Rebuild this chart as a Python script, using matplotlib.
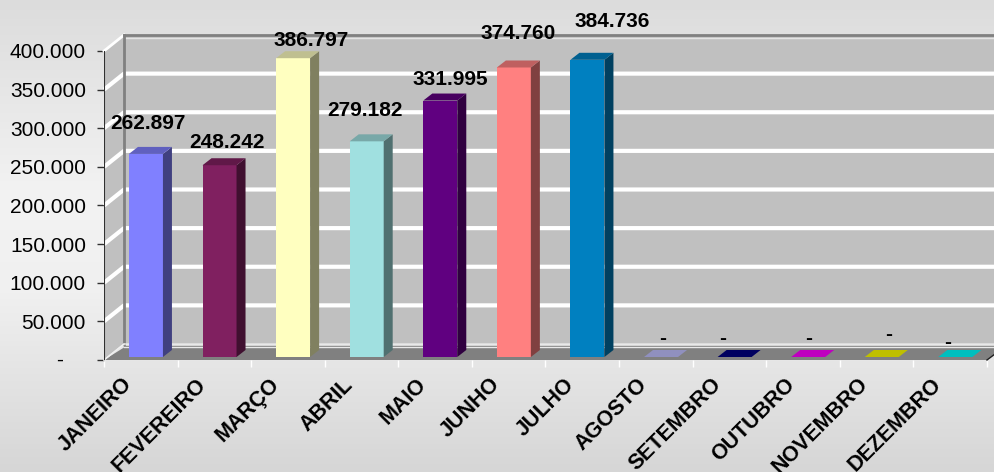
import numpy as np
import matplotlib
matplotlib.use('Agg')
import matplotlib.pyplot as plt
from matplotlib.colors import LinearSegmentedColormap, to_rgb
from matplotlib.patches import Polygon

meses = ['JANEIRO', 'FEVEREIRO', 'MARÇO', 'ABRIL', 'MAIO', 'JUNHO', 'JULHO',
         'AGOSTO', 'SETEMBRO', 'OUTUBRO', 'NOVEMBRO', 'DEZEMBRO']
valores = [262897, 248242, 386797, 279182, 331995, 374760, 384736, 0, 0, 0, 0, 0]
cores = ['#8080FF', '#802060', '#FFFFC0', '#A0E0E0', '#600080', '#FF8080', '#0080C0',
         '#C0C0FF', '#000080', '#FF00FF', '#FFFF00', '#00FFFF']
ticks_y = [50000, 100000, 150000, 200000, 250000, 300000, 350000, 400000]
ticks_y_txt = ['50.000', '100.000', '150.000', '200.000', '250.000', '300.000', '350.000', '400.000']

# deslocamento dos rotulos em pixels, em relacao ao topo de cada barra
desloc_rotulos = [(2, 30), (7, 23), (18, 18), (-2, 31), (10, 21), (4, 34), (25, 38),
                  (2, 19), (-12, 19), (0, 19), (7, 22), (-8, 14)]

plt.rcParams['font.family'] = ['Liberation Sans', 'DejaVu Sans']

fig = plt.figure(figsize=(9.95, 4.72), dpi=100)

# fundo em degrade
fundo = fig.add_axes([0, 0, 1, 1], zorder=0)
cmap = LinearSegmentedColormap.from_list('fundo', [(0, '#dcdcdc'), (0.42, '#f3f3f3'), (0.62, '#f0f0f0'), (1, '#d6d6d6')])
fundo.imshow(np.linspace(0, 1, 472).reshape(-1, 1), aspect='auto', cmap=cmap)
fundo.axis('off')

ax = fig.add_axes([104 / 995, 112 / 472, 883 / 995, 309 / 472], zorder=1)
ax.patch.set_visible(False)
ax.set_xlim(0, 12)
ax.set_ylim(0, 400000)
for s in ax.spines.values():
    s.set_visible(False)

px_x = 12 / 883
px_y = 400000 / 309
prof_x = 20 * px_x
prof_y = 16 * px_y
xmax = 891 * px_x

# paredes e chao do efeito 3D
ax.add_patch(Polygon([(prof_x, prof_y), (xmax, prof_y), (xmax, 400000 + prof_y), (prof_x, 400000 + prof_y)],
                     fc='#c0c0c0', ec='none', clip_on=False, zorder=1))
ax.add_patch(Polygon([(0, 0), (prof_x, prof_y), (prof_x, 400000 + prof_y), (0, 400000)],
                     fc='#c0c0c0', ec='none', clip_on=False, zorder=1))
for t in ticks_y[:-1]:
    ax.plot([0, prof_x, xmax], [t, t + prof_y, t + prof_y], color='white', lw=3, clip_on=False,
            solid_capstyle='butt', zorder=2)
ax.plot([0, prof_x], [400000, 400000 + prof_y], color='white', lw=2, clip_on=False, zorder=2)
ax.plot([prof_x, xmax], [400000 + prof_y, 400000 + prof_y], color='#808080', lw=2, clip_on=False, zorder=3)
ax.plot([prof_x, xmax], [400000 + prof_y - 3 * px_y] * 2, color='#e4e4e4', lw=1, clip_on=False, zorder=2)
ax.plot([prof_x, prof_x], [prof_y, 400000 + prof_y], color='#808080', lw=2, clip_on=False, zorder=3)

ax.add_patch(Polygon([(0, 0), (12, 0), (xmax, 6 * px_y), (xmax, 12.5 * px_y), (prof_x, 12.5 * px_y)],
                     fc='#808080', ec='none', clip_on=False, zorder=2))
ax.plot([0, prof_x, xmax], [0, prof_y, prof_y], color='#e8e8e8', lw=1, clip_on=False, zorder=3)
ax.plot([prof_x, xmax], [prof_y - 1.7 * px_y] * 2, color='#808080', lw=1, clip_on=False, zorder=3)
ax.plot([prof_x, xmax], [prof_y - 3.4 * px_y] * 2, color='#e8e8e8', lw=1, clip_on=False, zorder=3)
ax.plot([12, xmax], [0, 6 * px_y], color='#202020', lw=1, clip_on=False, zorder=3)
ax.plot([0, 0], [0, 400000], color='#303030', lw=1.5, zorder=4)
ax.plot([0, prof_x], [0, prof_y], color='#f0f0f0', lw=1, clip_on=False, zorder=3)

# barras
largura = 34 * px_x
dx = 9 * px_x
dy = 7 * px_y
base = 3 * px_y
x = np.arange(12) + 0.57
ax.bar(x, valores, width=largura, bottom=base, color=cores, linewidth=0, zorder=5)
for xi, v, c in zip(x, valores, cores):
    rgb = np.array(to_rgb(c))
    d = xi + largura / 2
    e = xi - largura / 2
    ax.add_patch(Polygon([(d, base), (d + dx, base + dy), (d + dx, base + v + dy), (d, base + v)],
                         fc=rgb * 0.5, ec='none', zorder=5, clip_on=False))
    ax.add_patch(Polygon([(e, base + v), (d, base + v), (d + dx, base + v + dy), (e + dx, base + v + dy)],
                         fc=rgb * 0.75, ec='none', zorder=5, clip_on=False))

# rotulos de dados
for xi, v, (ox, oy) in zip(x, valores, desloc_rotulos):
    txt = f'{v:,}'.replace(',', '.') if v else '-'
    ax.annotate(txt, (xi, v + base), xytext=(ox, oy), textcoords='offset pixels', ha='center', va='center',
                fontsize=15, fontweight='bold', color='black', zorder=6, annotation_clip=False)

ax.set_yticks(ticks_y + [0])
ax.set_yticklabels(ticks_y_txt + [''], fontsize=15)
ax.tick_params(axis='y', length=5, width=1, color='#303030', pad=8)
ax.annotate('-', (0, 0), xytext=(-44, 0), textcoords='offset pixels', ha='center', va='center',
            fontsize=15, annotation_clip=False)

ax.set_xticks(np.arange(13))
ax.set_xticklabels([''] * 13)
ax.tick_params(axis='x', length=5, width=1, color='white')
for i, m in enumerate(meses):
    ax.annotate(m, (i + 0.5, 0), xytext=(-19, -14), textcoords='offset pixels', rotation=45, ha='right', va='top',
                rotation_mode='anchor', fontsize=15.5, fontweight='bold', annotation_clip=False)

fig.savefig('out.png', dpi=100)
